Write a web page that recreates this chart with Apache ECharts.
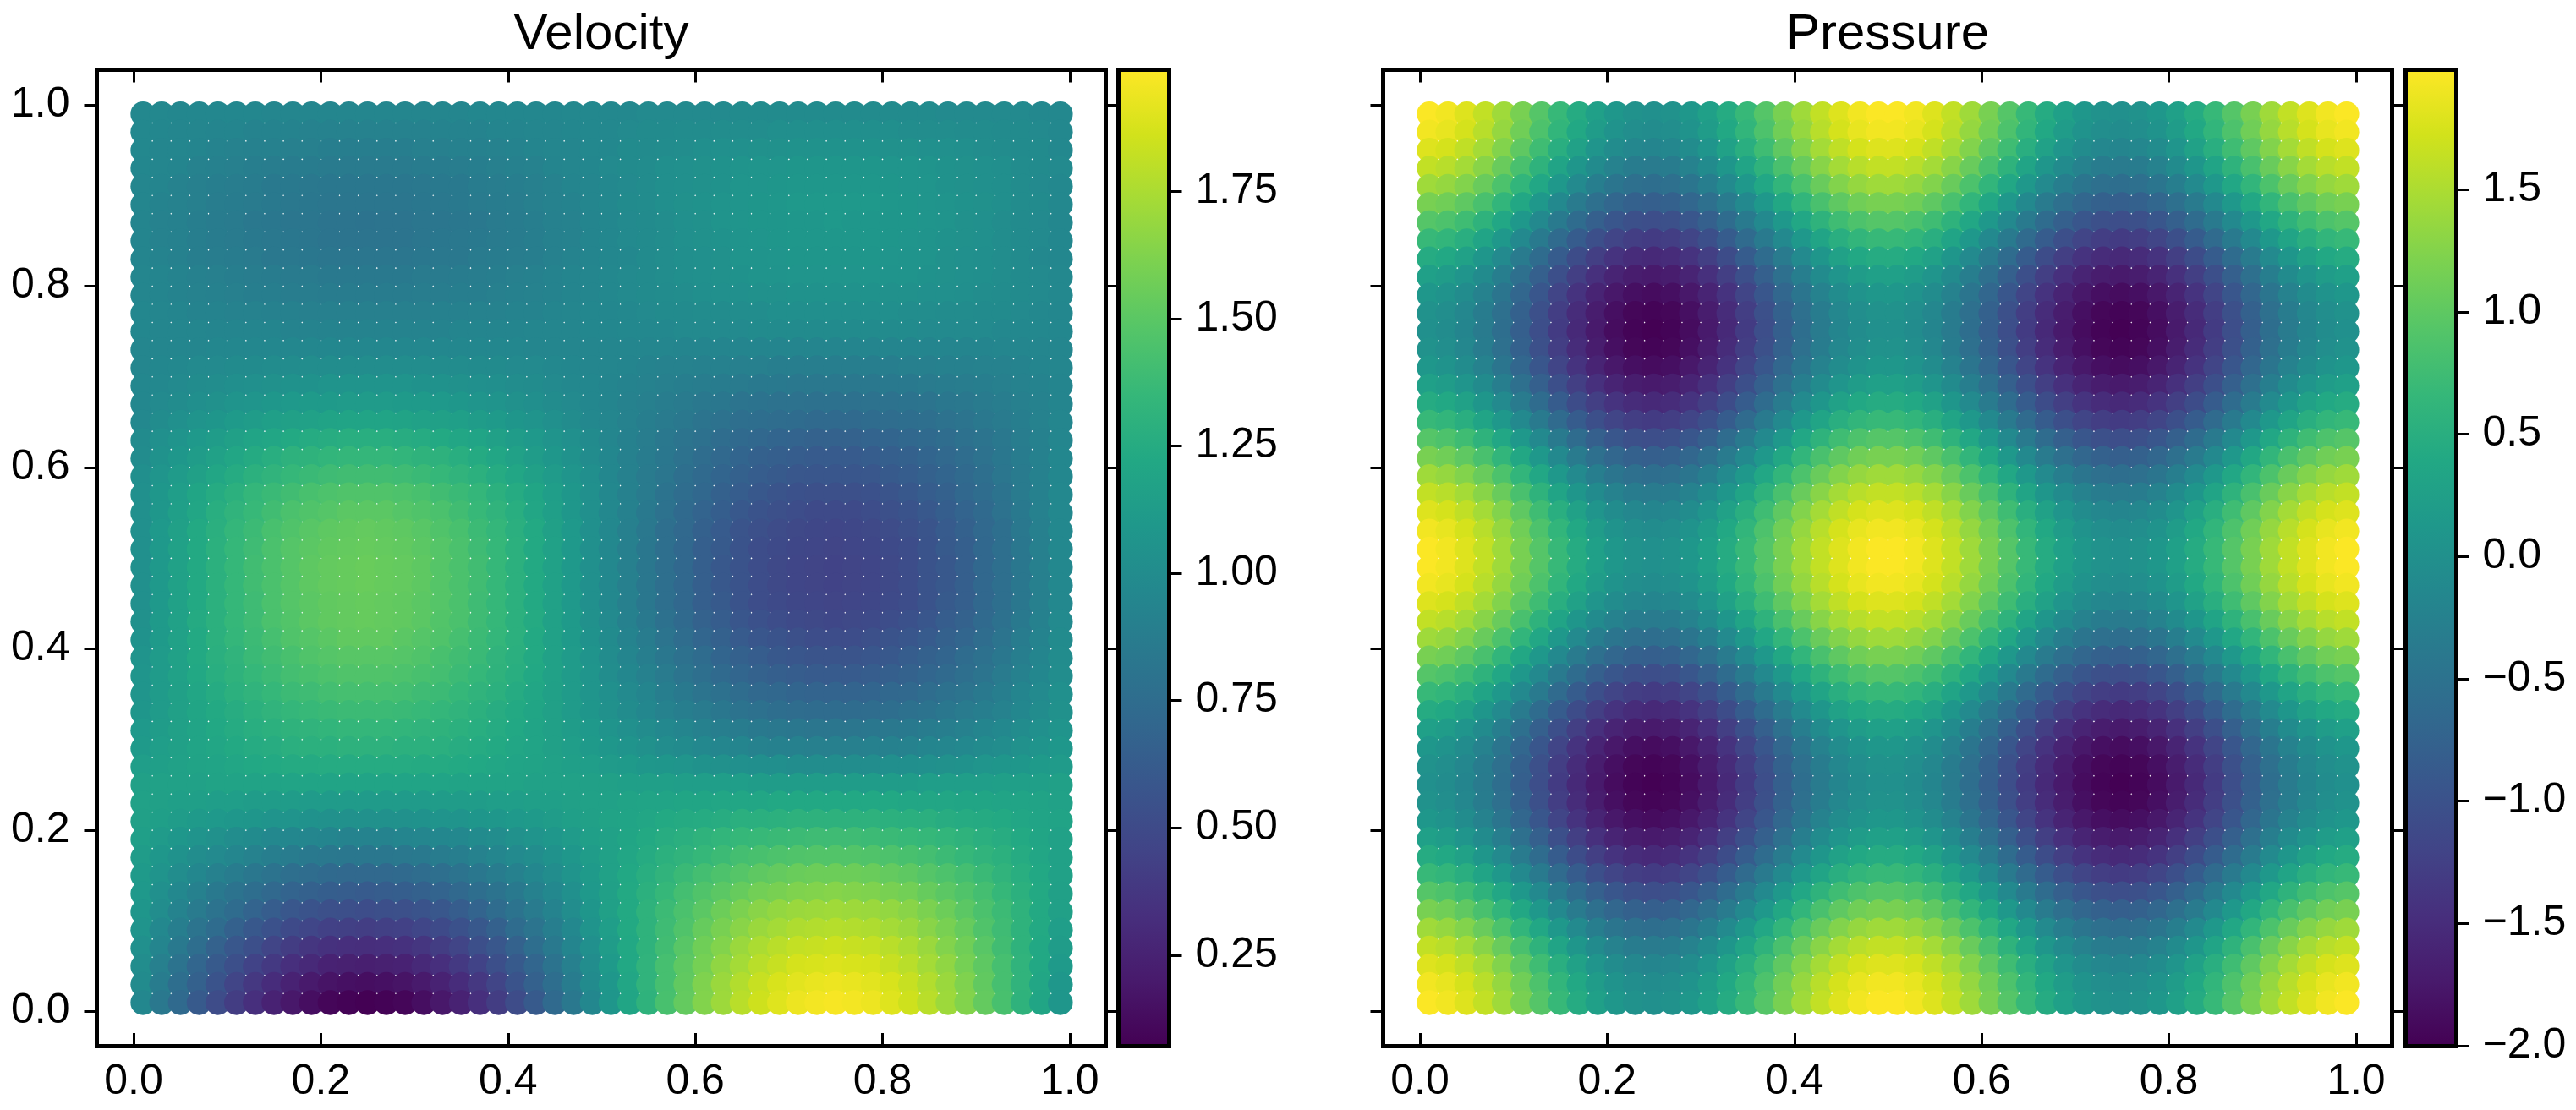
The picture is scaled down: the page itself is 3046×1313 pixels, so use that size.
<!DOCTYPE html>
<html lang="en">
<head>
<meta charset="UTF-8">
<title>Velocity and Pressure</title>
<script src="https://cdn.jsdelivr.net/npm/echarts@6/dist/echarts.min.js"></script>
<style>html,body{margin:0;background:#fff}#main{width:3046px;height:1313px}</style>
</head>
<body>
<div id="main"></div>
<script>
const gridX = [0.01,0.03,0.05,0.07,0.09,0.11,0.13,0.15,0.17,0.19,0.21,0.23,0.25,0.27,0.29,0.31,0.33,0.35,0.37,0.39,0.41,0.43,0.45,0.47,0.49,0.51,0.53,0.55,0.57,0.59,0.61,0.63,0.65,0.67,0.69,0.71,0.73,0.75,0.77,0.79,0.81,0.83,0.85,0.87,0.89,0.91,0.93,0.95,0.97,0.99];
// rows run top to bottom, same order the points get painted
const gridY = [0.99,0.97,0.95,0.93,0.91,0.89,0.87,0.85,0.83,0.81,0.79,0.77,0.75,0.73,0.71,0.69,0.67,0.65,0.63,0.61,0.59,0.57,0.55,0.53,0.51,0.49,0.47,0.45,0.43,0.41,0.39,0.37,0.35,0.33,0.31,0.29,0.27,0.25,0.23,0.21,0.19,0.17,0.15,0.13,0.11,0.09,0.07,0.05,0.03,0.01];

// velocity in hundredths
const velocityRows = [
[97,97,96,96,96,96,96,95,95,95,95,95,95,95,95,95,95,95,96,96,96,96,96,97,97,97,97,98,98,98,98,98,99,99,99,99,99,99,99,99,99,99,99,98,98,98,98,98,97,97],
[97,96,95,95,94,94,93,93,93,92,92,92,92,92,92,92,93,93,93,94,94,95,95,96,97,97,98,99,99,100,100,101,101,101,102,102,102,102,102,102,102,101,101,101,100,100,99,99,98,97],
[97,95,95,94,93,92,91,91,90,90,89,89,89,89,89,90,90,91,91,92,93,94,95,95,97,97,99,99,100,101,102,103,103,104,104,105,105,105,105,105,104,104,103,103,102,101,100,99,99,97],
[96,95,94,92,91,90,89,88,87,87,86,86,86,86,86,87,87,88,89,90,91,92,94,95,96,98,99,100,102,103,104,105,106,107,107,108,108,108,108,108,107,107,106,105,104,103,102,100,99,98],
[95,94,92,90,89,88,87,85,85,84,83,83,83,83,83,84,85,85,87,88,89,90,92,94,95,97,98,100,102,103,104,105,107,107,108,109,109,109,109,109,108,107,107,105,104,103,102,100,98,97],
[95,93,92,90,88,87,86,85,84,83,82,82,82,82,82,83,84,85,86,87,88,90,92,93,95,97,99,100,102,104,105,106,107,108,109,110,110,110,110,110,109,108,107,106,105,104,102,100,99,97],
[94,92,91,89,87,86,84,83,82,82,81,81,80,81,81,82,82,83,84,86,87,89,91,92,94,96,98,99,101,103,104,106,107,108,108,109,109,110,109,109,108,108,107,106,104,103,101,99,98,96],
[94,92,91,89,87,86,85,84,83,82,81,81,81,81,81,82,83,84,85,86,87,89,91,92,94,96,98,99,101,103,104,105,106,107,108,109,109,109,109,109,108,107,106,105,104,103,101,99,98,96],
[94,93,91,89,88,87,86,84,84,83,82,82,82,82,82,83,84,84,86,87,88,89,91,93,94,96,97,99,101,102,103,104,106,106,107,108,108,108,108,108,107,106,106,104,103,102,101,99,97,96],
[95,94,93,91,90,89,88,87,86,86,85,85,85,85,85,86,86,87,88,89,90,91,93,94,95,97,98,99,101,102,103,104,105,106,106,107,107,107,107,107,106,106,105,104,103,102,101,99,98,97],
[95,94,93,92,91,90,89,89,88,88,87,87,87,87,87,88,88,89,89,90,91,92,93,94,95,97,98,99,100,101,102,103,103,104,104,105,105,105,105,105,104,104,103,103,102,101,100,99,98,97],
[96,95,94,93,93,92,92,91,91,90,90,90,90,90,90,90,91,91,92,92,93,93,94,95,96,96,97,98,99,99,100,100,101,101,102,102,102,102,102,102,102,101,101,100,100,99,99,98,97,96],
[96,95,95,95,94,94,94,94,93,93,93,93,93,93,93,93,93,94,94,94,94,95,95,95,96,96,97,97,97,98,98,98,98,99,99,99,99,99,99,99,99,99,98,98,98,98,97,97,97,96],
[95,95,95,95,96,96,96,96,96,96,96,96,96,96,96,96,96,96,96,96,96,95,95,95,95,95,95,95,95,94,94,94,94,94,94,94,94,94,94,94,94,94,94,94,94,94,95,95,95,95],
[95,96,97,98,98,99,99,100,100,101,101,101,101,101,101,101,100,100,99,99,98,98,97,96,95,95,94,93,92,92,91,91,90,90,89,89,89,89,89,89,89,90,90,91,91,92,92,93,94,95],
[96,97,98,100,101,102,103,104,105,105,106,106,106,106,106,105,105,104,103,102,101,100,98,97,96,94,93,92,90,89,88,87,86,85,85,84,84,84,84,84,85,85,86,87,88,89,90,92,93,94],
[96,98,100,102,104,106,107,109,110,111,111,112,112,112,111,111,110,109,107,106,104,102,100,98,96,94,92,90,88,86,84,83,81,80,79,79,78,78,78,79,79,80,81,83,84,86,88,90,92,94],
[97,100,103,106,108,111,113,115,116,117,118,119,119,119,118,117,116,115,113,111,108,106,103,100,97,95,92,89,86,84,81,79,77,76,75,74,73,73,73,74,75,76,77,79,81,84,86,89,92,95],
[99,103,106,110,113,116,119,121,123,125,126,127,127,127,126,125,123,121,119,116,113,110,106,103,99,95,91,88,84,81,78,75,73,71,69,68,67,67,67,68,69,71,73,75,78,81,84,88,91,95],
[100,105,109,113,117,121,124,127,130,131,133,134,134,134,133,131,130,127,124,121,117,113,109,105,100,96,91,87,83,79,75,72,69,66,65,63,62,62,62,63,65,66,69,72,75,79,83,87,91,96],
[102,107,112,116,121,125,129,132,135,137,139,140,140,140,139,137,135,132,129,125,121,116,112,107,102,96,91,86,82,77,73,69,66,63,61,59,58,58,58,59,61,63,66,69,73,77,82,86,91,96],
[103,109,114,120,125,129,134,137,140,143,145,146,146,146,145,143,140,137,134,129,125,120,114,109,103,97,91,86,80,75,71,66,63,60,57,55,54,54,54,55,57,60,63,66,71,75,80,86,91,97],
[103,109,115,121,127,132,136,140,144,146,148,150,150,150,148,146,144,140,136,132,127,121,115,109,103,97,91,85,79,73,68,64,60,56,54,52,50,50,50,52,54,56,60,64,68,73,79,85,91,97],
[103,110,116,123,128,134,138,143,146,149,151,152,153,152,151,149,146,143,138,134,128,123,116,110,103,97,90,84,77,72,66,62,57,54,51,49,48,47,48,49,51,54,57,62,66,72,77,84,90,97],
[103,110,117,123,129,135,139,144,148,150,152,153,154,153,152,150,148,144,139,135,129,123,117,110,103,97,90,83,77,71,65,61,56,52,50,48,47,46,47,48,50,52,56,61,65,71,77,83,90,97],
[103,110,117,123,129,135,140,144,148,151,153,154,155,154,153,151,148,144,140,135,129,123,117,110,103,97,90,83,77,71,65,60,56,52,49,47,46,45,46,47,49,52,56,60,65,71,77,83,90,97],
[103,110,117,123,129,135,140,144,148,151,153,154,155,154,153,151,148,144,140,135,129,123,117,110,103,97,90,83,77,71,65,60,56,52,49,47,46,45,46,47,49,52,56,60,65,71,77,83,90,97],
[103,110,117,123,129,135,139,144,148,150,152,153,154,153,152,150,148,144,139,135,129,123,117,110,103,97,90,83,77,71,65,61,56,52,50,48,47,46,47,48,50,52,56,61,65,71,77,83,90,97],
[104,111,117,124,129,135,139,144,147,150,152,153,154,153,152,150,147,144,139,135,129,124,117,111,104,98,91,85,78,73,67,63,58,55,52,50,49,48,49,50,52,55,58,63,67,73,78,85,91,98],
[105,111,117,123,129,134,138,142,146,148,150,152,152,152,150,148,146,142,138,134,129,123,117,111,105,99,93,87,81,75,70,66,62,58,56,54,52,52,52,54,56,58,62,66,70,75,81,87,93,99],
[106,112,117,123,128,132,137,140,143,146,148,149,149,149,148,146,143,140,137,132,128,123,117,112,106,100,94,89,83,78,74,69,66,63,60,58,57,57,57,58,60,63,66,69,74,78,83,89,94,100],
[107,112,117,122,127,131,135,138,141,143,145,146,146,146,145,143,141,138,135,131,127,122,117,112,107,101,96,91,86,81,77,73,70,67,65,63,62,62,62,63,65,67,70,73,77,81,86,91,96,101],
[107,112,116,121,125,129,132,135,138,139,141,142,142,142,141,139,138,135,132,129,125,121,116,112,107,103,98,94,89,85,81,78,75,72,71,69,68,68,68,69,71,72,75,78,81,85,89,94,98,103],
[108,112,116,120,123,126,129,132,134,136,137,138,138,138,137,136,134,132,129,126,123,120,116,112,108,104,100,96,92,89,86,83,80,78,76,75,74,74,74,75,76,78,80,83,86,89,92,96,100,104],
[110,113,116,119,122,125,127,129,131,132,133,134,134,134,133,132,131,129,127,125,122,119,116,113,110,106,103,100,97,94,91,89,87,85,84,83,82,82,82,83,84,85,87,89,91,94,97,100,103,106],
[111,114,116,119,121,123,125,126,128,129,129,130,130,130,129,129,128,126,125,123,121,119,116,114,111,109,106,104,101,99,97,95,94,92,91,91,90,90,90,91,91,92,94,95,97,99,101,104,106,109],
[114,115,117,118,119,121,122,123,124,124,125,125,125,125,125,124,124,123,122,121,119,118,117,115,114,112,111,109,108,107,105,104,103,102,102,101,101,101,101,101,102,102,103,104,105,107,108,109,111,112],
[116,117,117,117,118,118,118,118,119,119,119,119,119,119,119,119,119,118,118,118,118,117,117,117,116,116,115,115,115,114,114,114,114,113,113,113,113,113,113,113,113,113,114,114,114,114,115,115,115,116],
[117,116,115,115,114,114,113,113,113,112,112,112,112,112,112,112,113,113,113,114,114,115,115,116,117,117,118,119,119,120,120,121,121,121,122,122,122,122,122,122,122,121,121,121,120,120,119,119,118,117],
[116,115,113,111,110,109,108,106,106,105,104,104,104,104,104,105,106,106,108,109,110,111,113,115,116,118,119,121,123,124,125,126,128,128,129,130,130,130,130,130,129,128,128,126,125,124,123,121,119,118],
[115,112,109,106,104,101,99,97,96,95,94,93,93,93,94,95,96,97,99,101,104,106,109,112,115,117,120,123,126,128,131,133,135,136,137,138,139,139,139,138,137,136,135,133,131,128,126,123,120,117],
[113,109,105,101,98,95,92,89,87,85,84,83,83,83,84,85,87,89,92,95,98,101,105,109,113,117,121,125,129,132,135,138,141,143,145,146,147,147,147,146,145,143,141,138,135,132,129,125,121,117],
[111,106,101,96,91,87,83,80,77,75,73,72,72,72,73,75,77,80,83,87,91,96,101,106,111,117,122,127,132,137,141,145,148,151,153,155,156,156,156,155,153,151,148,145,141,137,132,127,122,117],
[110,103,97,91,85,80,76,72,68,66,64,63,62,63,64,66,68,72,76,80,85,91,97,103,110,116,123,129,135,141,146,150,154,158,160,162,163,164,163,162,160,158,154,150,146,141,135,129,123,116],
[108,101,93,86,80,74,68,63,59,56,54,53,52,53,54,56,59,63,68,74,80,86,93,101,108,116,123,131,138,144,150,156,161,165,168,170,171,172,171,170,168,165,161,156,150,144,138,131,123,116],
[106,97,89,81,74,66,60,55,50,47,44,43,42,43,44,47,50,55,60,66,74,81,89,97,106,114,123,131,139,146,154,160,165,170,173,176,177,178,177,176,173,170,165,160,154,146,139,131,123,114],
[103,94,85,76,67,59,53,46,41,37,34,33,32,33,34,37,41,46,53,59,67,76,85,94,103,113,122,131,140,149,157,163,170,175,179,182,183,184,183,182,179,175,170,163,157,149,140,131,122,113],
[101,90,80,70,61,53,45,39,33,29,25,24,23,24,25,29,33,39,45,53,61,70,80,90,101,111,122,132,142,151,159,167,173,179,183,187,188,189,188,187,183,179,173,167,159,151,142,132,122,111],
[99,87,76,66,56,46,38,31,25,20,17,15,14,15,17,20,25,31,38,46,56,66,76,87,99,109,121,132,142,152,162,170,177,183,188,191,193,194,193,191,188,183,177,170,162,152,142,132,121,109],
[96,84,73,61,51,41,33,25,19,14,10,8,7,8,10,14,19,25,33,41,51,61,73,84,96,108,120,131,143,153,163,171,179,185,190,194,196,197,196,194,190,185,179,171,163,153,143,131,120,108]
];

// pressure in hundredths, the pattern repeats so only the distinct bands are listed
const pressureBands = [
[198,192,180,163,142,118,93,68,45,26,11,2,-1,2,11,26,45,68,93,118,142,163,180,192,198],
[192,186,174,157,136,112,87,62,39,20,5,-4,-7,-4,5,20,39,62,87,112,136,157,174,186,192],
[180,174,162,145,124,100,75,50,27,8,-7,-16,-19,-16,-7,8,27,50,75,100,124,145,162,174,180],
[163,157,145,128,107,83,58,33,10,-9,-24,-33,-36,-33,-24,-9,10,33,58,83,107,128,145,157,163],
[142,136,124,107,86,62,37,12,-11,-30,-45,-54,-57,-54,-45,-30,-11,12,37,62,86,107,124,136,142],
[118,112,100,83,62,38,13,-12,-35,-54,-69,-78,-81,-78,-69,-54,-35,-12,13,38,62,83,100,112,118],
[93,87,75,58,37,13,-12,-37,-60,-79,-94,-103,-106,-103,-94,-79,-60,-37,-12,13,37,58,75,87,93],
[68,62,50,33,12,-12,-37,-62,-85,-104,-119,-128,-131,-128,-119,-104,-85,-62,-37,-12,12,33,50,62,68],
[45,39,27,10,-11,-35,-60,-85,-108,-127,-142,-151,-154,-151,-142,-127,-108,-85,-60,-35,-11,10,27,39,45],
[26,20,8,-9,-30,-54,-79,-104,-127,-146,-161,-170,-173,-170,-161,-146,-127,-104,-79,-54,-30,-9,8,20,26],
[11,5,-7,-24,-45,-69,-94,-119,-142,-161,-176,-185,-188,-185,-176,-161,-142,-119,-94,-69,-45,-24,-7,5,11],
[2,-4,-16,-33,-54,-78,-103,-128,-151,-170,-185,-194,-197,-194,-185,-170,-151,-128,-103,-78,-54,-33,-16,-4,2],
[-1,-7,-19,-36,-57,-81,-106,-131,-154,-173,-188,-197,-200,-197,-188,-173,-154,-131,-106,-81,-57,-36,-19,-7,-1]
];
const pressureBandOrder = [0,1,2,3,4,5,6,7,8,9,10,11,12,11,10,9,8,7,6,5,4,3,2,1,0,0,1,2,3,4,5,6,7,8,9,10,11,12,11,10,9,8,7,6,5,4,3,2,1,0];

const axisTicks = [0,0.2,0.4,0.6,0.8,1.0];
const velocityBarTicks = [0.25,0.5,0.75,1.0,1.25,1.5,1.75];
const pressureBarTicks = [-2,-1.5,-1,-0.5,0,0.5,1,1.5];
const velocityRange = [0.072,1.989];
const pressureRange = [-2,1.99];

const viridis = ['#440154','#481a6c','#472f7d','#414487','#39568c','#31688e','#2a788e','#23888e','#1f988b','#22a884','#35b779','#54c568','#7ad151','#a5db36','#d2e21b','#fde725'];

const FONT = '"Liberation Sans", Arial, sans-serif';
const X_MIN = -0.0393, X_MAX = 1.0385, Y_MIN = -0.0376, Y_MAX = 1.0387;

const frame = {show:true, onZero:false, lineStyle:{color:'#000', width:5, cap:'square'}};
const tick = {show:true, length:15, lineStyle:{color:'#000', width:3}};
const plotTop = 82.5, plotH = 1154.5;

let grids = [], xAxes = [], yAxes = [], series = [], titles = [], maps = [];

function addPanel(name, left, barLeft, rows, range, barTicks, barDigits, showY) {
    const g = grids.length;
    grids.push({left:left, top:plotTop, width:1193, height:plotH});
    grids.push({left:barLeft, top:plotTop, width:60, height:plotH});

    // scatter frame: x ticks point in, y ticks point out
    ['bottom','top'].forEach(pos => xAxes.push({
        gridIndex:g, type:'value', position:pos, min:X_MIN, max:X_MAX, z:10,
        axisLine:frame, splitLine:{show:false},
        axisTick:Object.assign({inside:true, customValues:axisTicks}, tick),
        axisLabel:{show:pos === 'bottom', customValues:axisTicks, margin:18, color:'#000', fontFamily:FONT, fontSize:50,
            formatter:v => v.toFixed(1)}
    }));
    ['left','right'].forEach(pos => yAxes.push({
        gridIndex:g, type:'value', position:pos, min:Y_MIN, max:Y_MAX, z:10,
        axisLine:frame, splitLine:{show:false},
        axisTick:Object.assign({customValues:axisTicks}, tick),
        axisLabel:{show:showY && pos === 'left', customValues:axisTicks, margin:32, padding:[6,0,0,0], color:'#000', fontFamily:FONT, fontSize:50,
            formatter:v => v.toFixed(1)}
    }));

    // colorbar frame
    ['bottom','top'].forEach(pos => xAxes.push({
        gridIndex:g + 1, type:'value', position:pos, min:0, max:1, z:10,
        axisLine:frame, splitLine:{show:false}, axisTick:{show:false}, axisLabel:{show:false}
    }));
    yAxes.push({
        gridIndex:g + 1, type:'value', position:'left', min:range[0], max:range[1], z:10,
        axisLine:frame, splitLine:{show:false}, axisTick:{show:false}, axisLabel:{show:false}
    });
    yAxes.push({
        gridIndex:g + 1, type:'value', position:'right', min:range[0], max:range[1], z:10,
        axisLine:frame, splitLine:{show:false},
        axisTick:Object.assign({customValues:barTicks}, tick),
        axisLabel:{customValues:barTicks, margin:31, padding:[6,0,0,0], color:'#000', fontFamily:FONT, fontSize:50,
            formatter:v => v.toFixed(barDigits).replace('-', '\u2212')}
    });

    const points = [];
    rows.forEach((row, r) => row.forEach((val, c) => points.push([gridX[c], gridY[r], val / 100])));
    const seriesIndex = series.length;
    series.push({
        type:'scatter', xAxisIndex:xAxes.length - 4, yAxisIndex:yAxes.length - 4,
        data:points, symbolSize:29.5, progressive:0, large:false, silent:true,
        itemStyle:{opacity:1}
    });
    series.push({
        type:'custom', xAxisIndex:xAxes.length - 2, yAxisIndex:yAxes.length - 2,
        data:[range], silent:true,
        renderItem:(params, api) => {
            const a = api.coord([0, api.value(1)]), b = api.coord([1, api.value(0)]);
            return {type:'rect', shape:{x:a[0], y:a[1], width:b[0] - a[0], height:b[1] - a[1]},
                style:{fill:new echarts.graphic.LinearGradient(0, 0, 0, 1,
                    viridis.map((c, i) => ({offset:1 - i / (viridis.length - 1), color:c})))}};
        }
    });
    maps.push({show:false, seriesIndex:seriesIndex, dimension:2, min:range[0], max:range[1], inRange:{color:viridis}});
    titles.push({text:name, left:left + 591.5, top:6, textAlign:'center',
        textStyle:{color:'#000', fontFamily:FONT, fontSize:60, fontWeight:'normal'}});
}

const pressureRows = pressureBandOrder.map(b => pressureBands[b].concat(pressureBands[b]));

addPanel('Velocity', 114.5, 1322.5, velocityRows, velocityRange, velocityBarTicks, 2, true);
addPanel('Pressure', 1635.5, 2844.5, pressureRows, pressureRange, pressureBarTicks, 1, false);

const chart = echarts.init(document.getElementById('main'));
chart.setOption({
    animation:false, backgroundColor:'#fff',
    title:titles, grid:grids, xAxis:xAxes, yAxis:yAxes, visualMap:maps, series:series
});
</script>
</body>
</html>
